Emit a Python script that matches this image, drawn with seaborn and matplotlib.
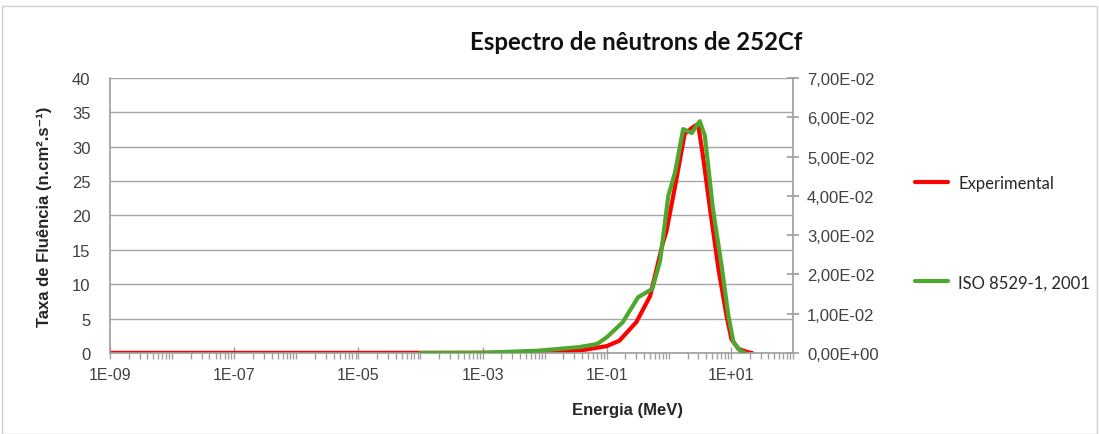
import matplotlib
matplotlib.use("Agg")
import matplotlib.pyplot as plt
import matplotlib.ticker as mticker
from matplotlib.lines import Line2D
from matplotlib.patches import Rectangle
import seaborn as sns

# Data
energy_exp = [1e-9, 1e-7, 1e-5, 1e-3, 3e-3, 1e-2, 2e-2, 4e-2, 0.1, 0.16, 0.3, 0.5,
              0.8, 0.91, 1.3, 1.8, 2.4, 2.95, 3.5, 4.6, 6.3, 8.5, 10.2, 13.2, 19.0, 22.0]
fluence_exp = [0.02, 0.02, 0.02, 0.03, 0.05, 0.1, 0.2, 0.4, 1.0, 1.8, 4.5, 8.3,
               16.0, 17.6, 24.9, 31.9, 32.8, 33.3, 29.0, 21.0, 12.2, 5.4, 2.0, 0.6, 0.1, 0.0]

energy_iso = [1e-4, 1e-3, 8e-3, 3.6e-2, 7e-2, 0.1, 0.18, 0.32, 0.54, 0.72, 0.98,
              1.26, 1.7, 2.35, 3.15, 3.8, 5.1, 7.1, 9.1, 11.0, 14.1, 17.0]
fraction_iso = [0.0, 0.00005, 0.0006, 0.0015, 0.0023, 0.004, 0.0078, 0.0142, 0.0163,
                0.0233, 0.040, 0.046, 0.057, 0.056, 0.059, 0.0553, 0.037, 0.022,
                0.0095, 0.0027, 0.0006, 0.0]

x_ticks = [1e-9, 1e-7, 1e-5, 1e-3, 1e-1, 1e1]
x_labels = ["1E-09", "1E-07", "1E-05", "1E-03", "1E-01", "1E+01"]
left_ticks = [0, 5, 10, 15, 20, 25, 30, 35, 40]
right_ticks = [0.0, 0.01, 0.02, 0.03, 0.04, 0.05, 0.06, 0.07]

sns.set_theme(style="white")
plt.rcParams["font.family"] = ["Liberation Sans", "DejaVu Sans"]

RED = "#ff0000"
GREEN = "#4ea72e"
GRID = "#a6a6a6"
SPINE = "#a0a0a0"

fig = plt.figure(figsize=(10.99, 4.35), dpi=100)
ax = fig.add_axes([0.1001, 0.1862, 0.6215, 0.6322])
ax2 = ax.twinx()

sns.lineplot(x=energy_exp, y=fluence_exp, ax=ax, color=RED, lw=3, sort=False)
sns.lineplot(x=energy_iso, y=fraction_iso, ax=ax2, color=GREEN, lw=3, sort=False)

ax.set_xscale("log")
ax.set_xlim(1e-9, 1e2)
ax.set_ylim(0, 40)
ax2.set_ylim(0, 0.07)

ax.set_xticks(x_ticks)
ax.set_xticklabels(x_labels, family=["Liberation Sans Narrow", "Liberation Sans"], fontsize=11.5)
ax.xaxis.set_minor_locator(mticker.LogLocator(base=10, subs=range(1, 10), numticks=30))
ax.xaxis.set_minor_formatter(mticker.NullFormatter())
ax.set_yticks(left_ticks)
ax.set_yticklabels([str(t) for t in left_ticks], fontsize=12, color="#404040")
ax2.set_yticks(right_ticks)
ax2.set_yticklabels([f"{t:.2E}".replace(".", ",") for t in right_ticks],
                    fontsize=12, color="#404040")

ax.grid(axis="y", color=GRID, lw=1)
ax.grid(axis="x", visible=False)
for a in (ax, ax2):
    for s in a.spines.values():
        s.set_color(SPINE)
    a.spines["top"].set_visible(False)
ax.spines["right"].set_visible(False)
ax2.spines["left"].set_visible(False)
ax2.spines["bottom"].set_visible(False)

ax.tick_params(axis="x", which="major", direction="inout", length=8, color=SPINE, width=1, pad=6,
               labelcolor="#404040", bottom=True)
ax.tick_params(axis="x", which="minor", direction="out", length=4, color=SPINE, width=1, bottom=True)
ax.tick_params(axis="y", left=False, pad=8)
ax2.tick_params(axis="y", right=True, direction="inout", length=8, color=SPINE, pad=6)

ax.set_xlabel("Energia (MeV)", family=["Liberation Sans Narrow", "Liberation Sans"],
              fontsize=12, fontweight="bold", color="#262626")
ax.xaxis.set_label_coords(0.757, -0.178)
ax.set_ylabel("Taxa de Fluência (n.cm².s⁻¹)", fontsize=12, fontweight="bold",
              family=["Liberation Sans", "DejaVu Sans"], color="#262626")
ax.yaxis.set_label_coords(-0.085, 0.5)

fig.text(0.579, 0.903, "Espectro de nêutrons de 252Cf", fontsize=17.3, fontweight="bold",
         ha="center", va="center", family=["Lato", "DejaVu Sans"], color="#111111")

handles = [Line2D([], [], color=RED, lw=3), Line2D([], [], color=GREEN, lw=3)]
fig.legend(handles, ["Experimental", "ISO 8529-1, 2001"], loc="upper left",
           bbox_to_anchor=(0.819, 0.63), frameon=False,
           labelspacing=5.0, handlelength=2.0, handletextpad=0.6,
           prop={"family": ["Lato", "DejaVu Sans"], "size": 12})

fig.add_artist(Rectangle((0.002, 0.0), 0.996, 0.985, transform=fig.transFigure,
                         fill=False, edgecolor="#d0d0d0", lw=1))

fig.savefig("out.png", dpi=100)
